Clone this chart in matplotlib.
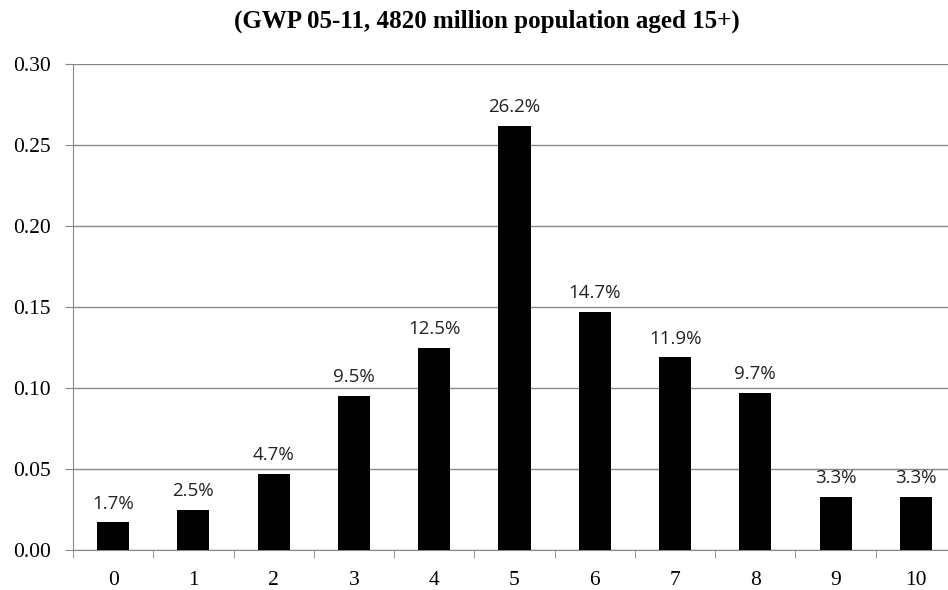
import matplotlib
matplotlib.use("Agg")
import matplotlib.pyplot as plt
from matplotlib.ticker import FixedLocator, NullFormatter

categories = ["0", "1", "2", "3", "4", "5", "6", "7", "8", "9", "10"]
values = [0.017, 0.025, 0.047, 0.095, 0.125, 0.262, 0.147, 0.119, 0.097, 0.033, 0.033]
labels = ["1.7%", "2.5%", "4.7%", "9.5%", "12.5%", "26.2%", "14.7%", "11.9%", "9.7%", "3.3%", "3.3%"]
yticks = [0.00, 0.05, 0.10, 0.15, 0.20, 0.25, 0.30]
title = "(GWP 05-11, 4820 million population aged 15+)"

fig = plt.figure(figsize=(9.48, 5.9), dpi=100)
ax = fig.add_axes([73/948, 40/590, (948-73)/948, (550-64)/590])

x = list(range(len(categories)))
ax.bar(x, values, width=0.4, color="black", zorder=3)
for xi, v, lab in zip(x, values, labels):
    ax.text(xi, v + 0.006, lab, ha="center", va="bottom", fontsize=13.5,
            family="Open Sans", color="#222222")

ax.set_xlim(-0.5, 10.4)
ax.set_ylim(0, 0.30)
ax.set_yticks(yticks)
ax.set_yticklabels([f"{t:.2f}" for t in yticks], family="Liberation Serif", fontsize=15.5)
ax.set_xticks(x)
ax.set_xticklabels(categories, family="Liberation Serif", fontsize=15.5)
ax.tick_params(axis="x", which="major", length=0, pad=15)
ax.xaxis.set_minor_locator(FixedLocator([i + 0.5 for i in range(-1, 11)]))
ax.xaxis.set_minor_formatter(NullFormatter())
ax.tick_params(axis="x", which="minor", length=6, color="#888888", direction="out")
ax.tick_params(axis="y", length=6, color="#888888", direction="out", pad=10)

ax.grid(axis="y", color="#888888", linewidth=1.0, zorder=0)
for s in ["top", "right"]:
    ax.spines[s].set_visible(False)
ax.spines["left"].set_color("#888888")
ax.spines["bottom"].set_color("#888888")

fig.text(487/948, 1 - 21/590, title, ha="center", va="center", fontsize=18,
         fontweight="bold", family="Liberation Serif")

fig.savefig("out.png", dpi=100)
